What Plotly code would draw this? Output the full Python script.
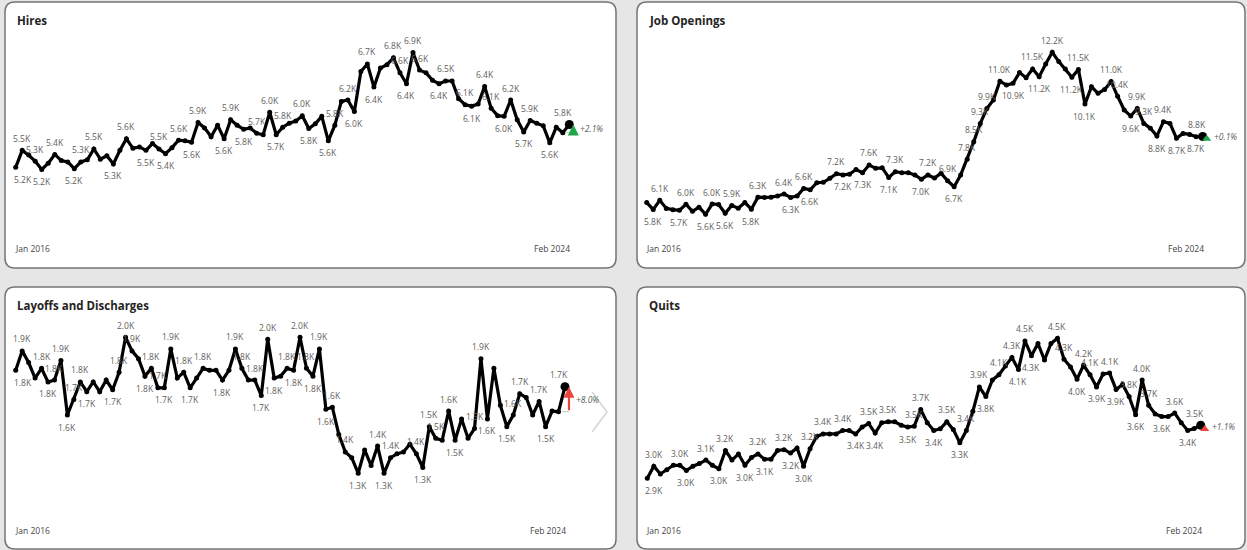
import plotly.graph_objects as go

W, H = 1247, 550

FIRST_MONTH = "Jan 2016"
LAST_MONTH = "Feb 2024"

# Monthly JOLTS figures (thousands), Jan 2016 - Dec 2019 then Jan 2021 - Feb 2024
hires = [5210, 5460, 5390, 5300, 5180, 5270, 5400, 5310, 5290, 5190,
         5290, 5320, 5480, 5330, 5380, 5260, 5460, 5630, 5490, 5510,
         5460, 5560, 5480, 5410, 5500, 5610, 5600, 5580, 5870, 5790,
         5660, 5830, 5630, 5910, 5830, 5770, 5790, 5710, 5690, 6020,
         5690, 5800, 5860, 5890, 5970, 5780, 5850, 5960, 5600, 5830,
         6180, 6200, 6030, 6620, 6730, 6390, 6670, 6720, 6820, 6600,
         6440, 6900, 6640, 6600, 6490, 6440, 6480, 6480, 6220, 6130,
         6110, 6140, 6400, 6080, 5970, 5960, 6200, 5910, 5730, 5900,
         5860, 5820, 5570, 5800, 5720, 5840]

job_openings = [6050, 5770, 6140, 5810, 5760, 5730, 5980, 5690, 5860, 5570,
                5990, 5970, 5610, 5930, 5820, 6050, 5780, 6270, 6260, 6270,
                6320, 6400, 6260, 6320, 6630, 6570, 6860, 6880, 7040, 7230,
                7180, 7210, 7400, 7270, 7590, 7450, 7470, 7080, 7310, 7270,
                7270, 7180, 7000, 7180, 7050, 7250, 6940, 6700, 7180, 7820,
                8540, 9290, 9900, 10250, 11020, 10860, 10930, 11370, 11160, 11520,
                11200, 11720, 12200, 11820, 11520, 11180, 11500, 10080, 10790, 10520,
                10680, 11000, 10400, 9840, 9590, 9900, 9290, 9090, 8770, 9360,
                9290, 8680, 8880, 8840, 8744, 8753]

layoffs = [1830, 1930, 1870, 1790, 1840, 1770, 1780, 1880, 1600, 1680,
           1770, 1720, 1770, 1720, 1780, 1730, 1820, 2000, 1930, 1890,
           1800, 1840, 1740, 1740, 1940, 1790, 1820, 1740, 1790, 1840,
           1830, 1830, 1780, 1830, 1940, 1840, 1780, 1780, 1700, 1990,
           1790, 1800, 1840, 1830, 2000, 1840, 1800, 1940, 1630, 1640,
           1500, 1410, 1380, 1300, 1420, 1340, 1440, 1300, 1380, 1400,
           1410, 1450, 1400, 1330, 1540, 1480, 1470, 1620, 1470, 1580,
           1480, 1530, 1890, 1580, 1840, 1650, 1540, 1600, 1710, 1690,
           1600, 1670, 1540, 1620, 1617, 1746]

quits = [2890, 3030, 2940, 2990, 3040, 3040, 2980, 3030, 3060, 3100,
         3040, 3000, 3210, 3100, 3170, 3040, 3130, 3170, 3110, 3110,
         3210, 3220, 3180, 3240, 3030, 3230, 3370, 3400, 3400, 3400,
         3440, 3440, 3400, 3480, 3520, 3410, 3530, 3540, 3540, 3500,
         3480, 3490, 3680, 3530, 3440, 3460, 3540, 3450, 3300, 3440,
         3660, 3940, 3830, 4020, 4080, 4180, 4280, 4140, 4470, 4300,
         4440, 4250, 4440, 4500, 4260, 4170, 4030, 4190, 4080, 3940,
         4090, 4100, 3910, 3970, 3830, 3620, 4020, 3730, 3630, 3600,
         3600, 3640, 3530, 3440, 3462, 3500]

# Indices of the points that carry a data label
hires_above = [1, 3, 6, 10, 12, 17, 22, 25, 28, 33, 37, 39, 41, 44, 49, 51, 54, 58,
               59, 61, 62, 66, 69, 72, 73, 76, 79, 85]
hires_below = [0, 4, 9, 15, 20, 23, 27, 32, 35, 40, 45, 48, 52, 55, 60, 65, 70, 75,
               78, 82]
jo_above = [2, 6, 10, 13, 17, 21, 24, 29, 34, 38, 43, 46, 49, 50, 51, 52, 54, 59, 62,
            66, 71, 72, 75, 76, 79, 85]
jo_below = [1, 5, 9, 12, 16, 22, 25, 30, 33, 37, 42, 47, 56, 60, 65, 67, 74, 78, 81, 84]
lay_above = [1, 4, 6, 7, 9, 10, 16, 17, 18, 21, 22, 24, 26, 29, 34, 35, 37, 39, 42, 44,
             45, 47, 49, 51, 56, 58, 62, 64, 65, 67, 71, 72, 77, 78, 81, 85]
lay_below = [0, 5, 8, 11, 15, 20, 23, 27, 32, 38, 40, 43, 46, 48, 53, 57, 63, 68, 73,
             76, 82]
quits_above = [1, 5, 9, 12, 17, 21, 25, 27, 30, 34, 37, 41, 42, 46, 49, 51, 54, 56, 58,
               63, 64, 67, 68, 71, 74, 76, 77, 81, 85]
quits_below = [0, 6, 11, 15, 18, 22, 24, 32, 35, 40, 44, 48, 52, 57, 59, 66, 69, 72, 75,
               79, 83]

GREEN = "#1fa64a"
RED = "#e8463c"
FONT = "Open Sans, Noto Sans, sans-serif"
LABEL_GREY = "#605e5c"

panels = [
    dict(title="Hires", values=hires, above=hires_above, below=hires_below,
         box=(5, 2, 616, 268), x0=15.7, dx=6.513, vref=5220, yref=166.67, k=0.068,
         color=GREEN, style="arrow"),
    dict(title="Job Openings", values=job_openings, above=jo_above, below=jo_below,
         box=(637, 2, 1245, 268), x0=646.7, dx=6.541, vref=6700, yref=186.67, k=0.02443,
         color=GREEN, style="triangle"),
    dict(title="Layoffs and Discharges", values=layoffs, above=lay_above, below=lay_below,
         box=(5, 287, 616, 549), x0=15.7, dx=6.462, vref=1600, yref=415.0, k=0.1943,
         color=RED, style="arrow"),
    dict(title="Quits", values=quits, above=quits_above, below=quits_below,
         box=(637, 287, 1245, 549), x0=647.3, dx=6.511, vref=3300, yref=442.67, k=0.087,
         color=RED, style="triangle"),
]


def px(p):
    return p / W


def py(p):
    return 1 - p / H


def rounded_rect(x0, y0, x1, y1, r):
    return (f"M {px(x0 + r)},{py(y0)} L {px(x1 - r)},{py(y0)} "
            f"Q {px(x1)},{py(y0)} {px(x1)},{py(y0 + r)} L {px(x1)},{py(y1 - r)} "
            f"Q {px(x1)},{py(y1)} {px(x1 - r)},{py(y1)} L {px(x0 + r)},{py(y1)} "
            f"Q {px(x0)},{py(y1)} {px(x0)},{py(y1 - r)} L {px(x0)},{py(y0 + r)} "
            f"Q {px(x0)},{py(y0)} {px(x0 + r)},{py(y0)} Z")


def fmt_k(v):
    return f"{v / 1000:.1f}K"


fig = go.Figure()
shapes = []
annotations = []
layout_axes = {}

for n, p in enumerate(panels, start=1):
    xa, ya = f"x{n}", f"y{n}"
    vals = p["values"]
    last = len(vals) - 1
    bx0, by0, bx1, by1 = p["box"]

    # panel card
    shapes.append(dict(type="path", path=rounded_rect(bx0, by0, bx1, by1, 10),
                       xref="paper", yref="paper", fillcolor="white",
                       line=dict(color="#767676", width=1.5), layer="below"))

    # axes mapped so that one month = dx pixels
    dl, dr = bx0 + 2, bx1 - 2
    dt, db = by0 + 2, by1 - 2
    xr = [(dl - p["x0"]) / p["dx"], (dr - p["x0"]) / p["dx"]]
    yr = [p["vref"] + (p["yref"] - db) / p["k"], p["vref"] + (p["yref"] - dt) / p["k"]]
    axis_common = dict(visible=False, showgrid=False, zeroline=False, fixedrange=True)
    layout_axes[f"xaxis{n}"] = dict(domain=[px(dl), px(dr)], range=xr, anchor=ya, **axis_common)
    layout_axes[f"yaxis{n}"] = dict(domain=[py(db), py(dt)], range=yr, anchor=xa, **axis_common)

    idx = list(range(len(vals)))
    fig.add_trace(go.Scatter(x=idx, y=vals, mode="lines+markers",
                             line=dict(color="black", width=3.2),
                             marker=dict(color="black", size=5),
                             xaxis=xa, yaxis=ya, hoverinfo="skip", cliponaxis=False))
    fig.add_trace(go.Scatter(x=[last], y=[vals[last]], mode="markers",
                             marker=dict(color="black", size=9),
                             xaxis=xa, yaxis=ya, hoverinfo="skip", cliponaxis=False))

    # data labels
    for i in p["above"]:
        xs = 0
        if i == 0:
            xs = 7
        if i == last:
            xs = -6
        annotations.append(dict(x=i, y=vals[i], xref=xa, yref=ya, text=fmt_k(vals[i]),
                                showarrow=False, yshift=12, xshift=xs,
                                font=dict(size=8.5, color=LABEL_GREY, family=FONT)))
    for i in p["below"]:
        xs = 7 if i == 0 else 0
        annotations.append(dict(x=i, y=vals[i], xref=xa, yref=ya, text=fmt_k(vals[i]),
                                showarrow=False, yshift=-12, xshift=xs,
                                font=dict(size=8.5, color=LABEL_GREY, family=FONT)))

    # title and period labels
    annotations.append(dict(x=px(bx0 + 10), y=py(by0 + 18), xref="paper", yref="paper",
                            text=f"<b>{p['title']}</b>", showarrow=False,
                            xanchor="left", yanchor="middle",
                            font=dict(size=11.5, color="#252423", family=FONT)))
    annotations.append(dict(x=0, y=py(by1 - 19), xref=xa, yref="paper", text=FIRST_MONTH,
                            showarrow=False, xanchor="left", yanchor="middle", xshift=-3,
                            font=dict(size=8.5, color="#444444", family=FONT)))
    annotations.append(dict(x=last, y=py(by1 - 19), xref=xa, yref="paper", text=LAST_MONTH,
                            showarrow=False, xanchor="right", yanchor="middle", xshift=3,
                            font=dict(size=8.5, color="#444444", family=FONT)))

    # month-over-month change indicator
    prev, cur = vals[last - 1], vals[last]
    change = (cur / prev - 1) * 100
    ix = last + 4 / p["dx"]
    if p["style"] == "arrow":
        fig.add_trace(go.Scatter(x=[last - 0.45, ix], y=[prev, prev], mode="lines",
                                 line=dict(color="#c8c8c8", width=1),
                                 xaxis=xa, yaxis=ya, hoverinfo="skip", cliponaxis=False))
        annotations.append(dict(x=ix, y=cur, ax=ix, ay=prev, xref=xa, yref=ya,
                                axref=xa, ayref=ya, text="", showarrow=True,
                                arrowhead=2, arrowsize=1, arrowwidth=2.2,
                                arrowcolor=p["color"], standoff=0, startstandoff=0))
    else:
        fig.add_trace(go.Scatter(x=[ix], y=[(prev + cur) / 2 - 2 / p["k"]], mode="markers",
                                 marker=dict(symbol="triangle-up", size=8, color=p["color"]),
                                 xaxis=xa, yaxis=ya, hoverinfo="skip", cliponaxis=False))
    annotations.append(dict(x=ix, y=(prev + cur) / 2, xref=xa, yref=ya,
                            text=f"<i>{change:+.1f}%</i>", showarrow=False,
                            xanchor="left", yanchor="middle", xshift=5,
                            font=dict(size=8.5, color=LABEL_GREY, family=FONT)))

# carousel chevron on the lower-left card
shapes.append(dict(type="path",
                   path=f"M {px(592)},{py(392)} L {px(607)},{py(412)} L {px(592)},{py(432)}",
                   xref="paper", yref="paper", line=dict(color="#d4d4d4", width=1.5)))

fig.update_layout(
    width=W, height=H,
    margin=dict(l=0, r=0, t=0, b=0),
    paper_bgcolor="#e6e6e6",
    plot_bgcolor="rgba(0,0,0,0)",
    showlegend=False,
    shapes=shapes,
    annotations=annotations,
    font=dict(family=FONT),
    **layout_axes,
)

fig.write_html("out.html", config={"displayModeBar": False})
